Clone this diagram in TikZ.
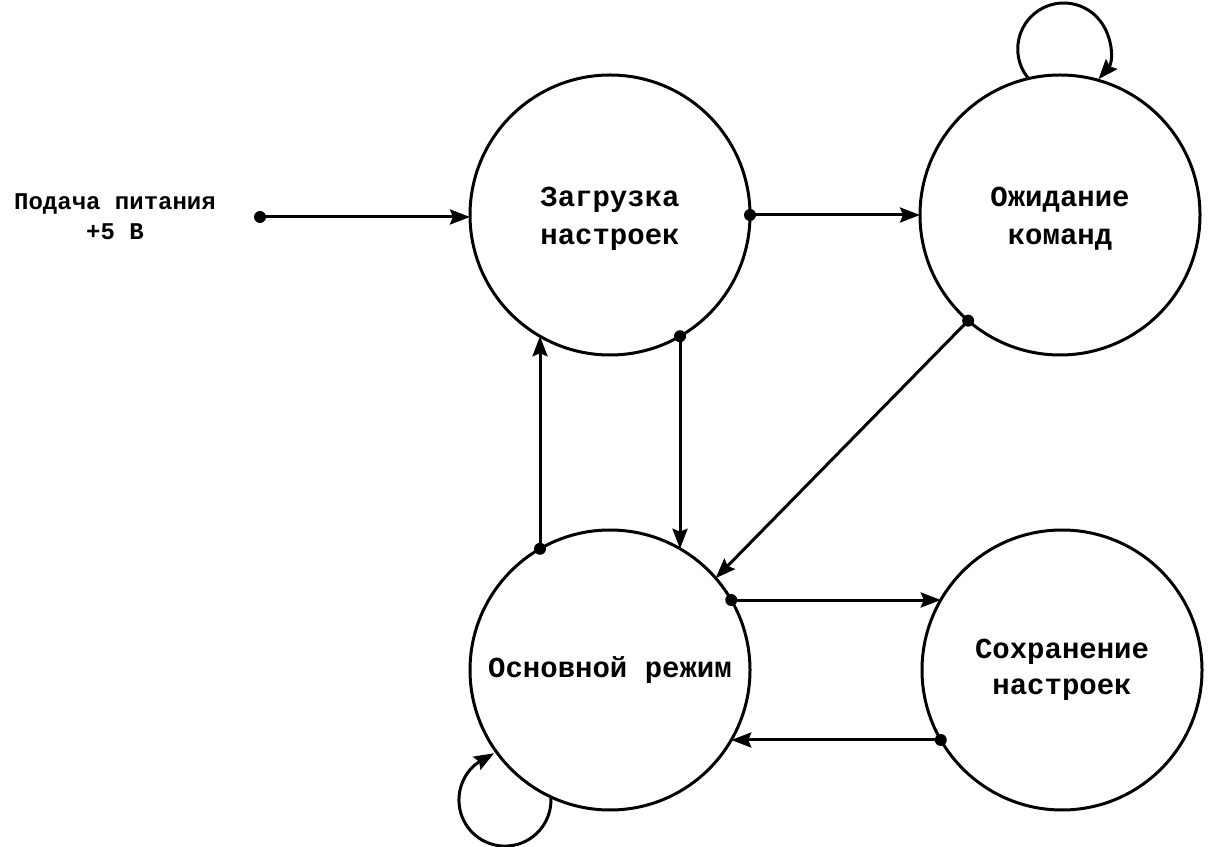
\documentclass[tikz,border=0pt]{standalone}
\usepackage{fontspec}
\setmainfont{Liberation Mono}
\usetikzlibrary{arrows.meta}

\tikzset{
  state/.style={circle, draw, line width=3pt, minimum size=280pt, outer sep=0pt,
    align=center, font=\fontsize{29}{36}\selectfont\bfseries},
  upper/.style={font=\fontsize{29}{38}\selectfont\bfseries, text height=60pt, text depth=0pt},
  trans/.style={line width=3pt, -{Stealth[length=20pt,width=15pt,inset=3pt]}},
  dot/.style={fill=black}
}

\begin{document}
\begin{tikzpicture}[x=1pt,y=1pt]
  \useasboundingbox (0,0) rectangle (1209,846);
  \node[state,upper] (load) at (610,631) {Загрузка\\настроек};
  \node[state,upper] (wait) at (1060,631) {Ожидание\\команд};
  \node[state] (main) at (610,176) {Основной режим};
  \node[state] (save) at (1062,176) {Сохранение\\настроек};
  \node[align=center, font=\fontsize{24}{30}\selectfont\bfseries] (power) at (115,629) {Подача питания\\+5 В};
  \coordinate (src) at (260,629);

  \draw[trans] (src) -- (src -| load.west);
  \draw[trans] (load.east) -- (wait.west);
  \draw[trans] (load.-60) -- (main.60);
  \draw[trans] (main.120) -- (load.-120);
  \draw[trans] (wait.-131) -- (main.41);
  \draw[trans] (main.30) -- (save.150);
  \draw[trans] (save.210) -- (main.-30);
  \draw[trans] (wait.103) arc[start angle=220, end angle=-41, radius=46];
  \draw[trans, shorten >=-14pt] (main.245) arc[start angle=4, end angle=-240, radius=46];

  \fill[dot] (src) circle (6);
  \fill[dot] (load.east) circle (6);
  \fill[dot] (load.-60) circle (6);
  \fill[dot] (main.120) circle (6);
  \fill[dot] (wait.-131) circle (6);
  \fill[dot] (main.30) circle (6);
  \fill[dot] (save.210) circle (6);
\end{tikzpicture}
\end{document}
